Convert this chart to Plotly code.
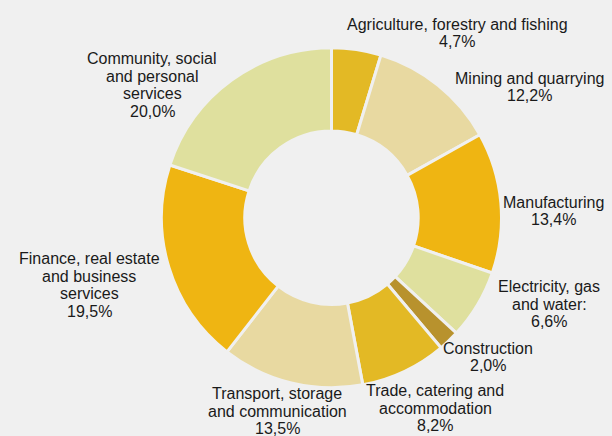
import plotly.graph_objects as go

# Share of gross value added by sector (%)
sectors = [
    "Agriculture, forestry and fishing",
    "Mining and quarrying",
    "Manufacturing",
    "Electricity, gas<br>and water:",
    "Construction",
    "Trade, catering and<br>accommodation",
    "Transport, storage<br>and communication",
    "Finance, real estate<br>and business<br>services",
    "Community, social<br>and personal<br>services",
]
shares = [4.7, 12.2, 13.4, 6.6, 2.0, 8.2, 13.5, 19.5, 20.0]

colors = ["#e3b925", "#e8d9a1", "#efb512", "#dfe09e", "#b8922d",
          "#e3b925", "#e8d9a1", "#efb512", "#dfe09e"]

# label block centres in pixels (x from left, y from top)
label_px = [(457, 33), (529, 87), (553, 211), (549, 304), (488, 357),
            (435, 408), (277, 411), (89, 285), (152, 85)]

W, H = 612, 436
BG = "#f0f0f0"
LINE_H = 17.4
FONT = dict(family="Liberation Sans, Arial, sans-serif", size=16, color="#1a1a1a")

cx, cy, r = 331.5, 217.75, 170.0

fig = go.Figure(go.Pie(
    labels=[s.replace("<br>", " ") for s in sectors],
    values=shares,
    sort=False,
    direction="clockwise",
    hole=0.51,
    marker=dict(colors=colors, line=dict(color=BG, width=3)),
    textinfo="none",
    hoverinfo="label+value",
    domain=dict(x=[(cx - r) / W, (cx + r) / W],
                y=[(H - cy - r) / H, (H - cy + r) / H]),
))

# one annotation per text line to keep the line spacing tight
for name, val, (px, py) in zip(sectors, shares, label_px):
    lines = name.split("<br>") + [f"{val:.1f}".replace(".", ",") + "%"]
    n = len(lines)
    for i, line in enumerate(lines):
        ly = py + (i - (n - 1) / 2) * LINE_H
        fig.add_annotation(
            x=px / W, y=1 - ly / H, xref="paper", yref="paper",
            text=line, showarrow=False, xanchor="center", yanchor="middle",
            font=FONT,
        )

fig.update_layout(
    width=W, height=H,
    margin=dict(l=0, r=0, t=0, b=0),
    paper_bgcolor=BG, plot_bgcolor=BG,
    showlegend=False,
)

fig.write_html("out.html")
